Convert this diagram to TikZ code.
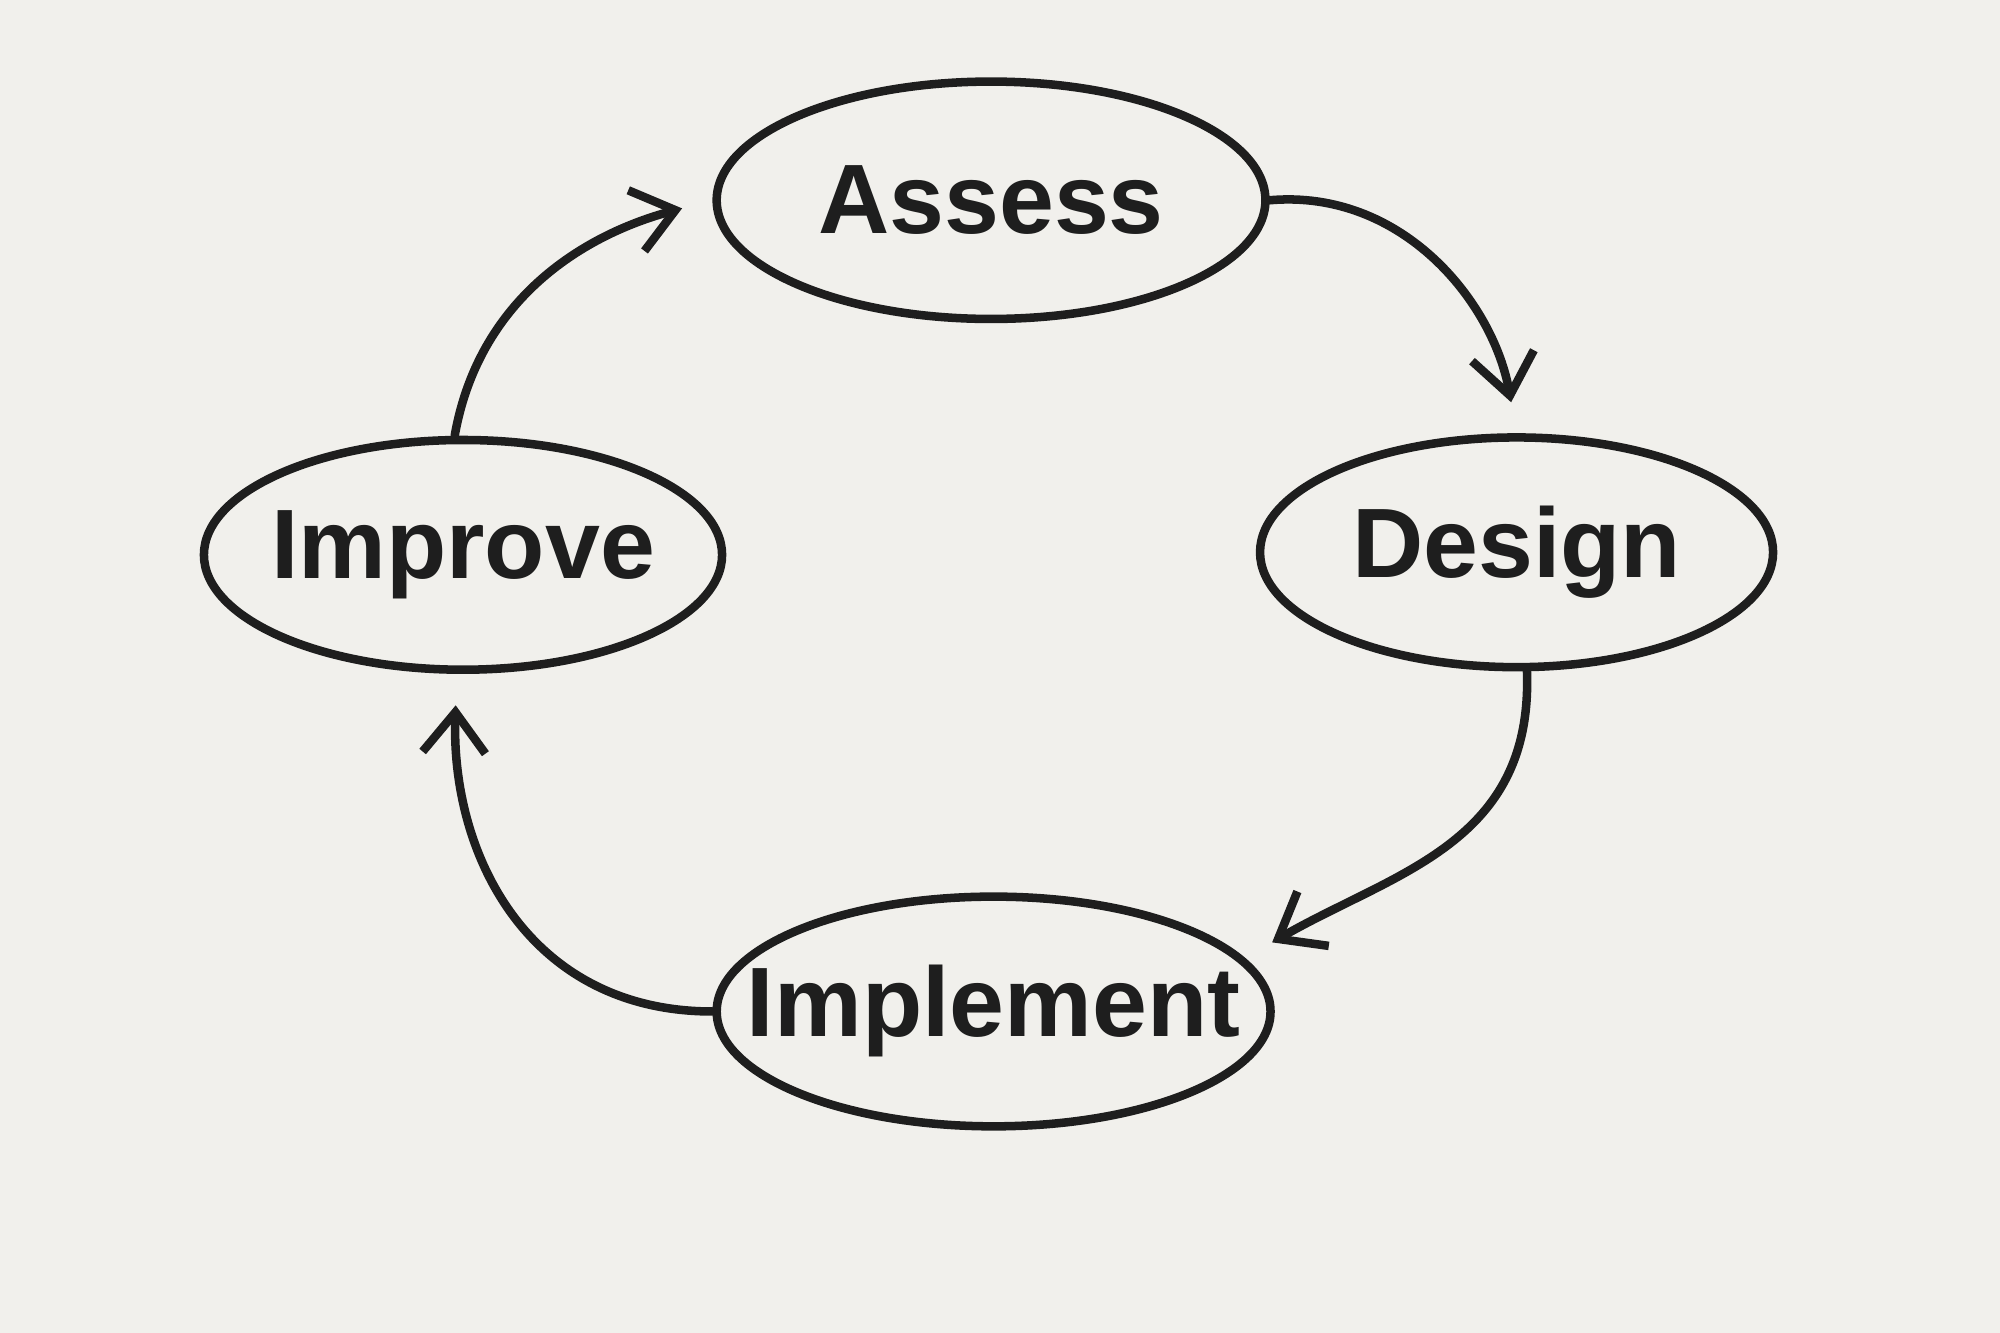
\documentclass[tikz,border=0pt]{standalone}
\usepackage{fontspec}
\setmainfont{Liberation Sans}
\usetikzlibrary{shapes.geometric,arrows.meta}
\definecolor{bg}{HTML}{F1F0EC}
\definecolor{ink}{HTML}{1E1E1E}
\newcommand{\stagetext}[1]{\makebox[0pt]{#1}}
\begin{document}
\begin{tikzpicture}[x=0.01cm,y=-0.01cm,
  stage/.style={ellipse,draw=ink,line width=1.9pt,inner sep=0pt,font=\bfseries\fontsize{22}{26}\selectfont,text=ink},
  flow/.style={draw=ink,line width=1.9pt,line cap=round,shorten >=7pt,-{Straight Barb[length=9pt,width=14pt,line width=1.9pt]}}]
\fill[bg] (0,0) rectangle (1568,1045);
\useasboundingbox (0,0) rectangle (1568,1045);
\node[stage,minimum width=4.30cm,minimum height=1.86cm] (assess) at (777,157) {\stagetext{Assess}};
\node[stage,minimum width=4.02cm,minimum height=1.80cm] (design) at (1189,433) {\stagetext{Design}};
\node[stage,minimum width=4.06cm,minimum height=1.80cm] (improve) at (363,435) {\stagetext{Improve}};
\node[stage,minimum width=4.34cm,minimum height=1.80cm] (implement) at (779,793) {\stagetext{Implement}};
\draw[flow] (assess.east) to[out=5,in=100] (design.north);
\draw[flow] (design.-85) to[out=-88,in=30,looseness=1.1] (implement.12);
\draw[flow] (implement.west) to[out=180,in=-92,looseness=1.1] (improve.-93);
\draw[flow] (improve.94) to[out=80,in=195] (assess.west);
\end{tikzpicture}
\end{document}
